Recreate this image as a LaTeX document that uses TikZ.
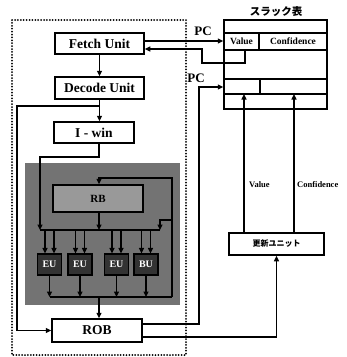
\documentclass[tikz,border=0pt]{standalone}
\usepackage{fontspec}
\setmainfont{Liberation Serif}
\newfontfamily\jp{Noto Sans CJK JP}
\usetikzlibrary{arrows.meta}
\begin{document}
\begin{tikzpicture}[x=1pt,y=-1pt,
  box/.style={draw,line width=1.5pt,fill=white,inner sep=0pt,font=\fontsize{13.5}{14}\selectfont\bfseries},
  ln/.style={line width=1.4pt},
  arr/.style={ln,-{Triangle[length=5.5pt,width=5pt]}},
  eu/.style={draw,line width=1.2pt,fill=black!80,text=white,minimum width=24pt,minimum height=21pt,inner sep=0pt,font=\fontsize{10}{10}\selectfont\bfseries},
  lbl/.style={font=\fontsize{13}{13}\selectfont\bfseries,inner sep=0pt},
  small/.style={font=\fontsize{9.5}{9.5}\selectfont\bfseries,inner sep=0pt},
  tline/.style={line width=1.3pt}]
\useasboundingbox (0,0) rectangle (347,357);
% dotted frame and shaded execution core
\draw[line width=2pt,line cap=round,dash pattern=on 0pt off 2.9pt] (12,20) rectangle (186,355);
\fill[black!55] (25,163) rectangle (180,305);
% nodes
\node[box,minimum width=89pt,minimum height=21pt] (fetch) at (99.5,43.5) {Fetch Unit};
\node[box,minimum width=89pt,minimum height=22pt] (decode) at (99.5,88) {Decode Unit};
\node[box,minimum width=80pt,minimum height=21pt] (iwin) at (94,132.5) {I - win};
\node[draw,line width=1.5pt,fill=black!40,minimum width=90pt,minimum height=27pt,inner sep=0pt,font=\fontsize{11}{11}\selectfont\bfseries] (rb) at (98,198.5) {RB};
\node[eu] (eu1) at (49.5,264.5) {EU};
\node[eu] (eu2) at (80,264.5) {EU};
\node[eu] (eu3) at (116.5,264.5) {EU};
\node[eu] (eu4) at (146,264.5) {BU};
\node[box,minimum width=90pt,minimum height=23pt] (rob) at (97,330.5) {ROB};
\node[draw,line width=1.5pt,minimum width=103pt,minimum height=89pt,inner sep=0pt] (tbl) at (275.5,64.5) {};
\node[font=\jp\bfseries\fontsize{10.5}{11}\selectfont,inner sep=0pt] (ttl) at (276,12) {スラック表};
\node[box,minimum width=95pt,minimum height=22pt,font=\jp\bfseries\fontsize{8}{8}\selectfont] (upd) at (276.5,244) {更新ユニット};
% table inner lines
\draw[tline] (224,33) -- (327,33);
\draw[tline] (224,50) -- (327,50);
\draw[tline] (224,79) -- (327,79);
\draw[tline] (224,94) -- (327,94);
\draw[tline] (259,33) -- (259,50);
\draw[tline] (260,79) -- (260,94);
\node[small] (val) at (241.5,41.5) {Value};
\node[small] (conf) at (293,41.5) {Confidence};
% coordinates
\coordinate (yA) at (0,41);
\coordinate (yB) at (0,49);
\coordinate (vb) at (245,50);
\coordinate (j1) at (99,106);
\coordinate (yR1) at (0,324);
\coordinate (yR2) at (0,337);
\coordinate (yP2) at (0,87);
\coordinate (xv) at (244,94);
\coordinate (xc) at (294,94);
% connectors
\draw[arr] (fetch.east |- yA) -- (tbl.west |- yA);
\node[lbl] (pc1) at (203,31) {PC};
\draw[arr] (vb) -- (245,63) -- (202,63) -- (202,49) -- (fetch.east |- yB);
\draw[arr] (fetch) -- (decode);
\draw[arr] (decode.south) -- (decode.south |- iwin.north);
\draw[arr] (j1) -- (17,106) |- (rob.west);
\draw[arr] (iwin.south -| j1) -- (99,157) -- (40,157) -- (40,230);
\draw[ln] (40,230) -- (160,230);
\draw[arr] (rb.south -| j1) -- (99,230);
\draw[arr] (172,297) -- (172,178) -- (99,178) -- (rb.north -| j1);
\draw[arr] (172,220) -- (160,220) -- (160,230);
\foreach \e in {eu1,eu2,eu3,eu4}{
  \draw[arr] ([xshift=-4.5pt]\e.north |- 0,230) -- ([xshift=-4.5pt]\e.north);
  \draw[arr] ([xshift=4.5pt]\e.north |- 0,230) -- ([xshift=4.5pt]\e.north);
  \draw[arr] (\e.south) -- (\e.south |- 0,297);
}
\draw[ln] (49.5,297) -- (172,297);
\draw[arr] (99,297) -- (rob.north -| j1);
\draw[arr] (rob.east |- yR1) -- (199,324) -- (199,87) -- (tbl.west |- yP2);
\node[lbl] (pc2) at (196,78) {PC};
\draw[arr] (rob.east |- yR2) -| (upd.south);
\draw[arr] (upd.north -| xv) -- (xv);
\draw[arr] (upd.north -| xc) -- (xc);
\node[small,anchor=west,font=\fontsize{8.5}{9}\selectfont\bfseries] (lv) at (249,185) {Value};
\node[small,anchor=west,font=\fontsize{8.5}{9}\selectfont\bfseries] (lc) at (297,185) {Confidence};
\end{tikzpicture}
\end{document}
